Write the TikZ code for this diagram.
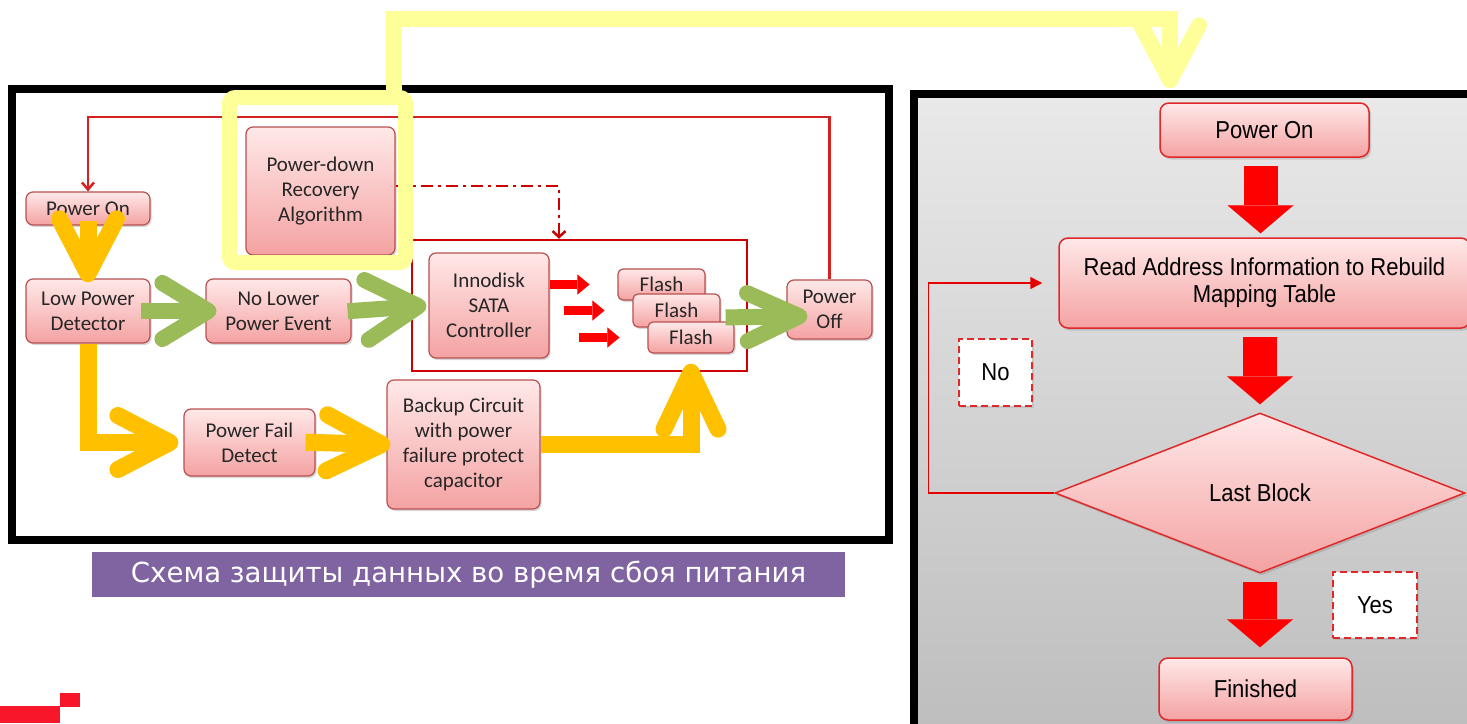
\documentclass[tikz,border=0pt]{standalone}
\usepackage{fontspec}
\newfontfamily\carlito{Carlito}
\newfontfamily\arialf[FakeStretch=0.9]{Liberation Sans}
\newfontfamily\dejavu{DejaVu Sans}
\usetikzlibrary{arrows.meta,shapes.geometric,shadows,calc}
\definecolor{ylw}{HTML}{FFFF99}
\definecolor{grn}{HTML}{9BBB59}
\definecolor{org}{HTML}{FFC000}
\definecolor{lred}{HTML}{D42020}
\definecolor{cred}{HTML}{CC0000}
\definecolor{bdr}{HTML}{B85050}
\definecolor{ftop}{HTML}{FFE8E8}
\definecolor{fbot}{HTML}{F4A2A2}
\definecolor{rbdr}{HTML}{E02828}
\definecolor{purp}{HTML}{8064A2}
\definecolor{markred}{HTML}{F7162A}
\definecolor{pgtop}{HTML}{E9E9E9}
\definecolor{pgbot}{HTML}{BDBDBD}
\begin{document}
\begin{tikzpicture}[x=1pt,y=-1pt,
  lbox/.style={draw=bdr, line width=1.2pt, rounded corners=7pt, top color=ftop, bottom color=fbot,
    inner sep=0pt, align=center, text=black!85, font=\carlito\fontsize{21}{25}\selectfont,
    drop shadow={shadow xshift=1.5pt, shadow yshift=-2pt, opacity=0.3}},
  rbox/.style={draw=rbdr, line width=1.5pt, rounded corners=9pt, top color=ftop, bottom color=fbot,
    inner sep=0pt, align=center, text=black, font=\arialf\fontsize{24.5}{27}\selectfont,
    drop shadow={shadow xshift=2pt, shadow yshift=-2.5pt, opacity=0.3}},
  lbl/.style={draw=rbdr, dash pattern=on 7pt off 4pt, line width=2.5pt, fill=white, inner sep=0pt,
    font=\arialf\fontsize{24.5}{27}\selectfont,
    drop shadow={shadow xshift=1.5pt, shadow yshift=-2pt, opacity=0.2}},
  garr/.style={draw=grn, line width=16pt},
  oarr/.style={draw=org, line width=17pt},
  yarr/.style={draw=ylw, line width=16pt},
  blk/.style={draw=red, line width=34pt, -{Triangle[length=28pt,width=66pt,line width=0.01pt]}},
  sblk/.style={draw=red, line width=9pt, -{Triangle[length=12pt,width=20pt,line width=0.01pt]}},
  fbl/.style={draw=lred, line width=2.5pt, -{Straight Barb[length=7pt,width=12pt]}},
  fbr/.style={draw=red!90!black, line width=1.5pt, -{Triangle[length=12pt,width=12pt]}},
]
\useasboundingbox (0,0) rectangle (1467,723);
\clip (0,0) rectangle (1467,723);
\fill[white] (0,0) rectangle (1467,723);

% panels
\draw[line width=8pt, fill=white] (12,89) rectangle (889,540);
\draw[line width=8pt, top color=pgtop, bottom color=pgbot] (914,94) rectangle (1485,740);

% container
\node[draw=cred, line width=2.5pt, minimum width=335pt, minimum height=131pt, inner sep=0pt] (cont) at (579.5,305.5) {};

% left nodes
\node[lbox, minimum width=124pt, minimum height=33pt] (pon) at (88,208.5) {Power On};
\node[lbox, minimum width=124pt, minimum height=64pt] (lpd) at (88,311) {Low Power\\Detector};
\node[lbox, minimum width=145pt, minimum height=64pt] (nlpe) at (278.5,311) {No Lower\\Power Event};
\node[lbox, minimum width=149pt, minimum height=128pt] (pdra) at (320.5,191) {Power-down\\Recovery\\Algorithm};
\node[lbox, minimum width=120pt, minimum height=105pt] (ctrl) at (489,305.5) {Innodisk\\SATA\\Controller};
\node[lbox, minimum width=87pt, minimum height=31pt, rounded corners=5pt] (fl1) at (661.5,284.5) {Flash};
\node[lbox, minimum width=87pt, minimum height=33pt, rounded corners=5pt] (fl2) at (676.5,310.5) {Flash};
\node[lbox, minimum width=86pt, minimum height=31pt, rounded corners=5pt] (fl3) at (691,337.5) {Flash};
\node[lbox, minimum width=85pt, minimum height=59pt] (poff) at (829.5,309.5) {Power\\Off};
\node[lbox, minimum width=131pt, minimum height=67pt] (pfd) at (249.5,442.5) {Power Fail\\Detect};
\node[lbox, minimum width=153pt, minimum height=129pt] (bkp) at (463.5,444.5) {Backup Circuit\\with power\\failure protect\\capacitor};

% red feedback line and dash-dot
\coordinate (fbtop) at (0,117);
\draw[fbl] (poff.north) -- (poff.north |- fbtop) -| (pon.north);
\draw[draw=cred, line width=2.5pt, dash pattern=on 12pt off 5pt on 3pt off 5pt,
  -{Straight Barb[length=6pt,width=13pt]}] ($(pdra.east)+(0,-5)$) -| ($(cont.north)+(-20.5,0)$);

% small red arrows
\draw[sblk] (ctrl.east |- fl1) -- ($(fl1.west)+(-28,0)$);
\draw[sblk] ($(ctrl.east |- fl2)+(14,0)$) -- ($(fl2.west)+(-28,0)$);
\draw[sblk] ($(ctrl.east |- fl3)+(29,0)$) -- ($(fl3.west)+(-28,0)$);

% green arrows
\draw[garr, -{Straight Barb[length=46pt,width=56pt,round]}, shorten <=-10pt, shorten >=-11pt] (lpd.east) -- (nlpe.west);
\draw[garr, -{Straight Barb[length=52pt,width=60pt,round]}, shorten <=-4pt, shorten >=2pt] (nlpe.east) -- (ctrl.west);
\draw[garr, -{Straight Barb[length=52pt,width=48pt,round]}, shorten <=5pt, shorten >=-21pt] ($(fl2.east)+(0,7)$) -- ($(poff.west)+(0,7)$);

% orange arrows
\draw[oarr, -{Straight Barb[length=55pt,width=57pt,round]}, shorten <=-5pt, shorten >=-4pt] (pon.south) -- (lpd.north);
\draw[oarr, -{Straight Barb[length=52pt,width=54pt,round]}, shorten >=5pt] (lpd.south) |- (pfd.west);
\draw[oarr, -{Straight Barb[length=55pt,width=56pt,round]}, shorten <=-10pt, shorten >=-4pt] (pfd.east) -- (bkp.west);
\draw[oarr, -{Straight Barb[length=57pt,width=54pt,round]}, shorten >=10pt] (bkp.east) -| (fl3.south);

% caption and mark
\node[fill=purp, minimum width=753pt, minimum height=45pt, inner sep=0pt, text=white,
  font=\dejavu\fontsize{27.6}{30}\selectfont] (cap) at (468.5,574.5) {Схема защиты данных во время сбоя питания};
\fill[markred] (0,706) rectangle (60,723);
\fill[markred] (60,693) rectangle (80,707);

% right panel
\node[rbox, minimum width=209pt, minimum height=54pt] (rpon) at (1264.5,130) {Power On};
\node[rbox, minimum width=411pt, minimum height=90pt] (read) at (1264.5,283) {Read Address Information to Rebuild\\Mapping Table};
\node[rbox, diamond, rounded corners=0pt, aspect=2.5, minimum width=410pt, minimum height=160pt] (lb) at (1260,493) {Last Block};
\node[rbox, minimum width=193pt, minimum height=62pt] (fin) at (1255.5,689) {Finished};
\node[lbl, minimum width=73pt, minimum height=67pt] (no) at (995.5,372.5) {No};
\node[lbl, minimum width=84pt, minimum height=66pt] (yes) at (1375,605) {Yes};

\draw[blk, shorten <=8pt, shorten >=4pt] ($(rpon.south)+(-4,0)$) -- ($(read.north)+(-4,0)$);
\draw[blk, shorten <=8pt, shorten >=8pt] (read.south -| lb.north) -- (lb.north);
\draw[blk, shorten <=8pt, shorten >=10pt] (lb.south) -- (lb.south |- fin.north);
\draw[fbr, shorten >=16pt] (lb.west) -- ++(-126,0) |- (read.west);

% yellow highlight and connector
\node[draw=ylw, line width=15pt, rounded corners=6pt, outer sep=0pt, minimum width=176pt, minimum height=165pt, inner sep=0pt] (ybox) at (317.5,180) {};
\draw[yarr, -{Straight Barb[length=55pt,width=58pt,round]}] ($(ybox.north east)+(-11.5,0)$) -- ++(0,-78.5) -| ($(rpon.north)+(-94.5,-14)$);
\end{tikzpicture}
\end{document}
